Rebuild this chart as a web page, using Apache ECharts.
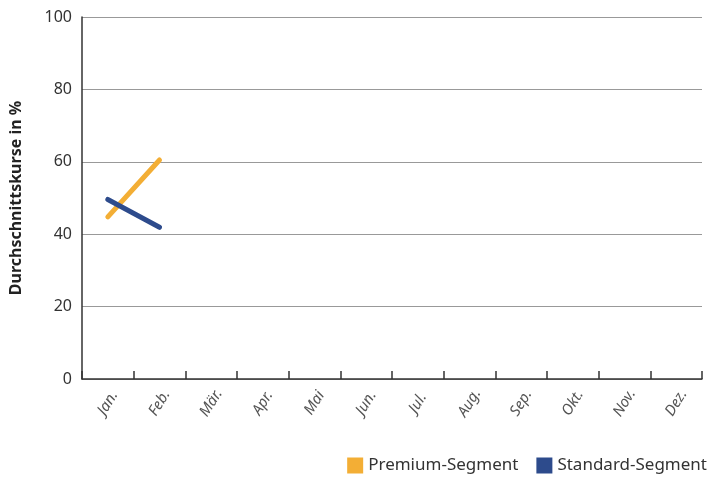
<!DOCTYPE html>
<html><head><meta charset="utf-8">
<script src="https://cdn.jsdelivr.net/npm/echarts@6/dist/echarts.min.js"></script>
<style>html,body{margin:0;padding:0;background:#fff}#c{width:728px;height:479px}</style>
</head><body><div id="c"></div>
<script>
const months = ['Jan.','Feb.','Mär.','Apr.','Mai','Jun.','Jul.','Aug.','Sep.','Okt.','Nov.','Dez.'];
const premium = [44.8, 60.5, null, null, null, null, null, null, null, null, null, null];
const standard = [49.6, 41.9, null, null, null, null, null, null, null, null, null, null];
const yTicks = [0, 20, 40, 60, 80, 100];

const chart = echarts.init(document.getElementById('c'), null, {renderer:'canvas'});
const font = 'Noto Sans';
chart.setOption({
  animation:false,
  grid:{left:82, right:26, top:17, bottom:100, containLabel:false},
  legend:{
    right:16, bottom:0, itemWidth:16, itemHeight:16, itemGap:18,
    icon:'rect',
    textStyle:{fontFamily:font, fontSize:17, color:'#333'},
    data:['Premium-Segment','Standard-Segment']
  },
  xAxis:{
    type:'category', data:months, boundaryGap:true,
    axisLine:{lineStyle:{color:'#333', width:1.5}},
    axisTick:{show:true, inside:true, length:8, interval:0, alignWithLabel:false, lineStyle:{color:'#333', width:1.5}},
    axisLabel:{rotate:58, interval:0, fontFamily:font, fontSize:15, fontStyle:'italic', color:'#555', margin:24,
      align:'center', verticalAlign:'middle'}
  },
  yAxis:{
    type:'value', min:0, max:100, interval:20,
    name:'Durchschnittskurse in %', nameLocation:'middle', nameGap:58,
    nameTextStyle:{fontFamily:font, fontSize:16, fontWeight:'bold', color:'#222'},
    axisLine:{show:true, lineStyle:{color:'#333', width:1.5}},
    axisTick:{show:false},
    axisLabel:{fontFamily:font, fontSize:16, color:'#333', margin:10,
      formatter:v=>yTicks.includes(v)?String(v):''},
    splitLine:{lineStyle:{color:'#999', width:1}}
  },
  series:[
    {name:'Premium-Segment', type:'line', data:premium, symbol:'none',
     itemStyle:{color:'#F3AE35'}, lineStyle:{color:'#F3AE35', width:5, cap:'round'}},
    {name:'Standard-Segment', type:'line', data:standard, symbol:'none',
     itemStyle:{color:'#2D4B8C'}, lineStyle:{color:'#2D4B8C', width:5, cap:'round'}}
  ]
});
</script></body></html>
